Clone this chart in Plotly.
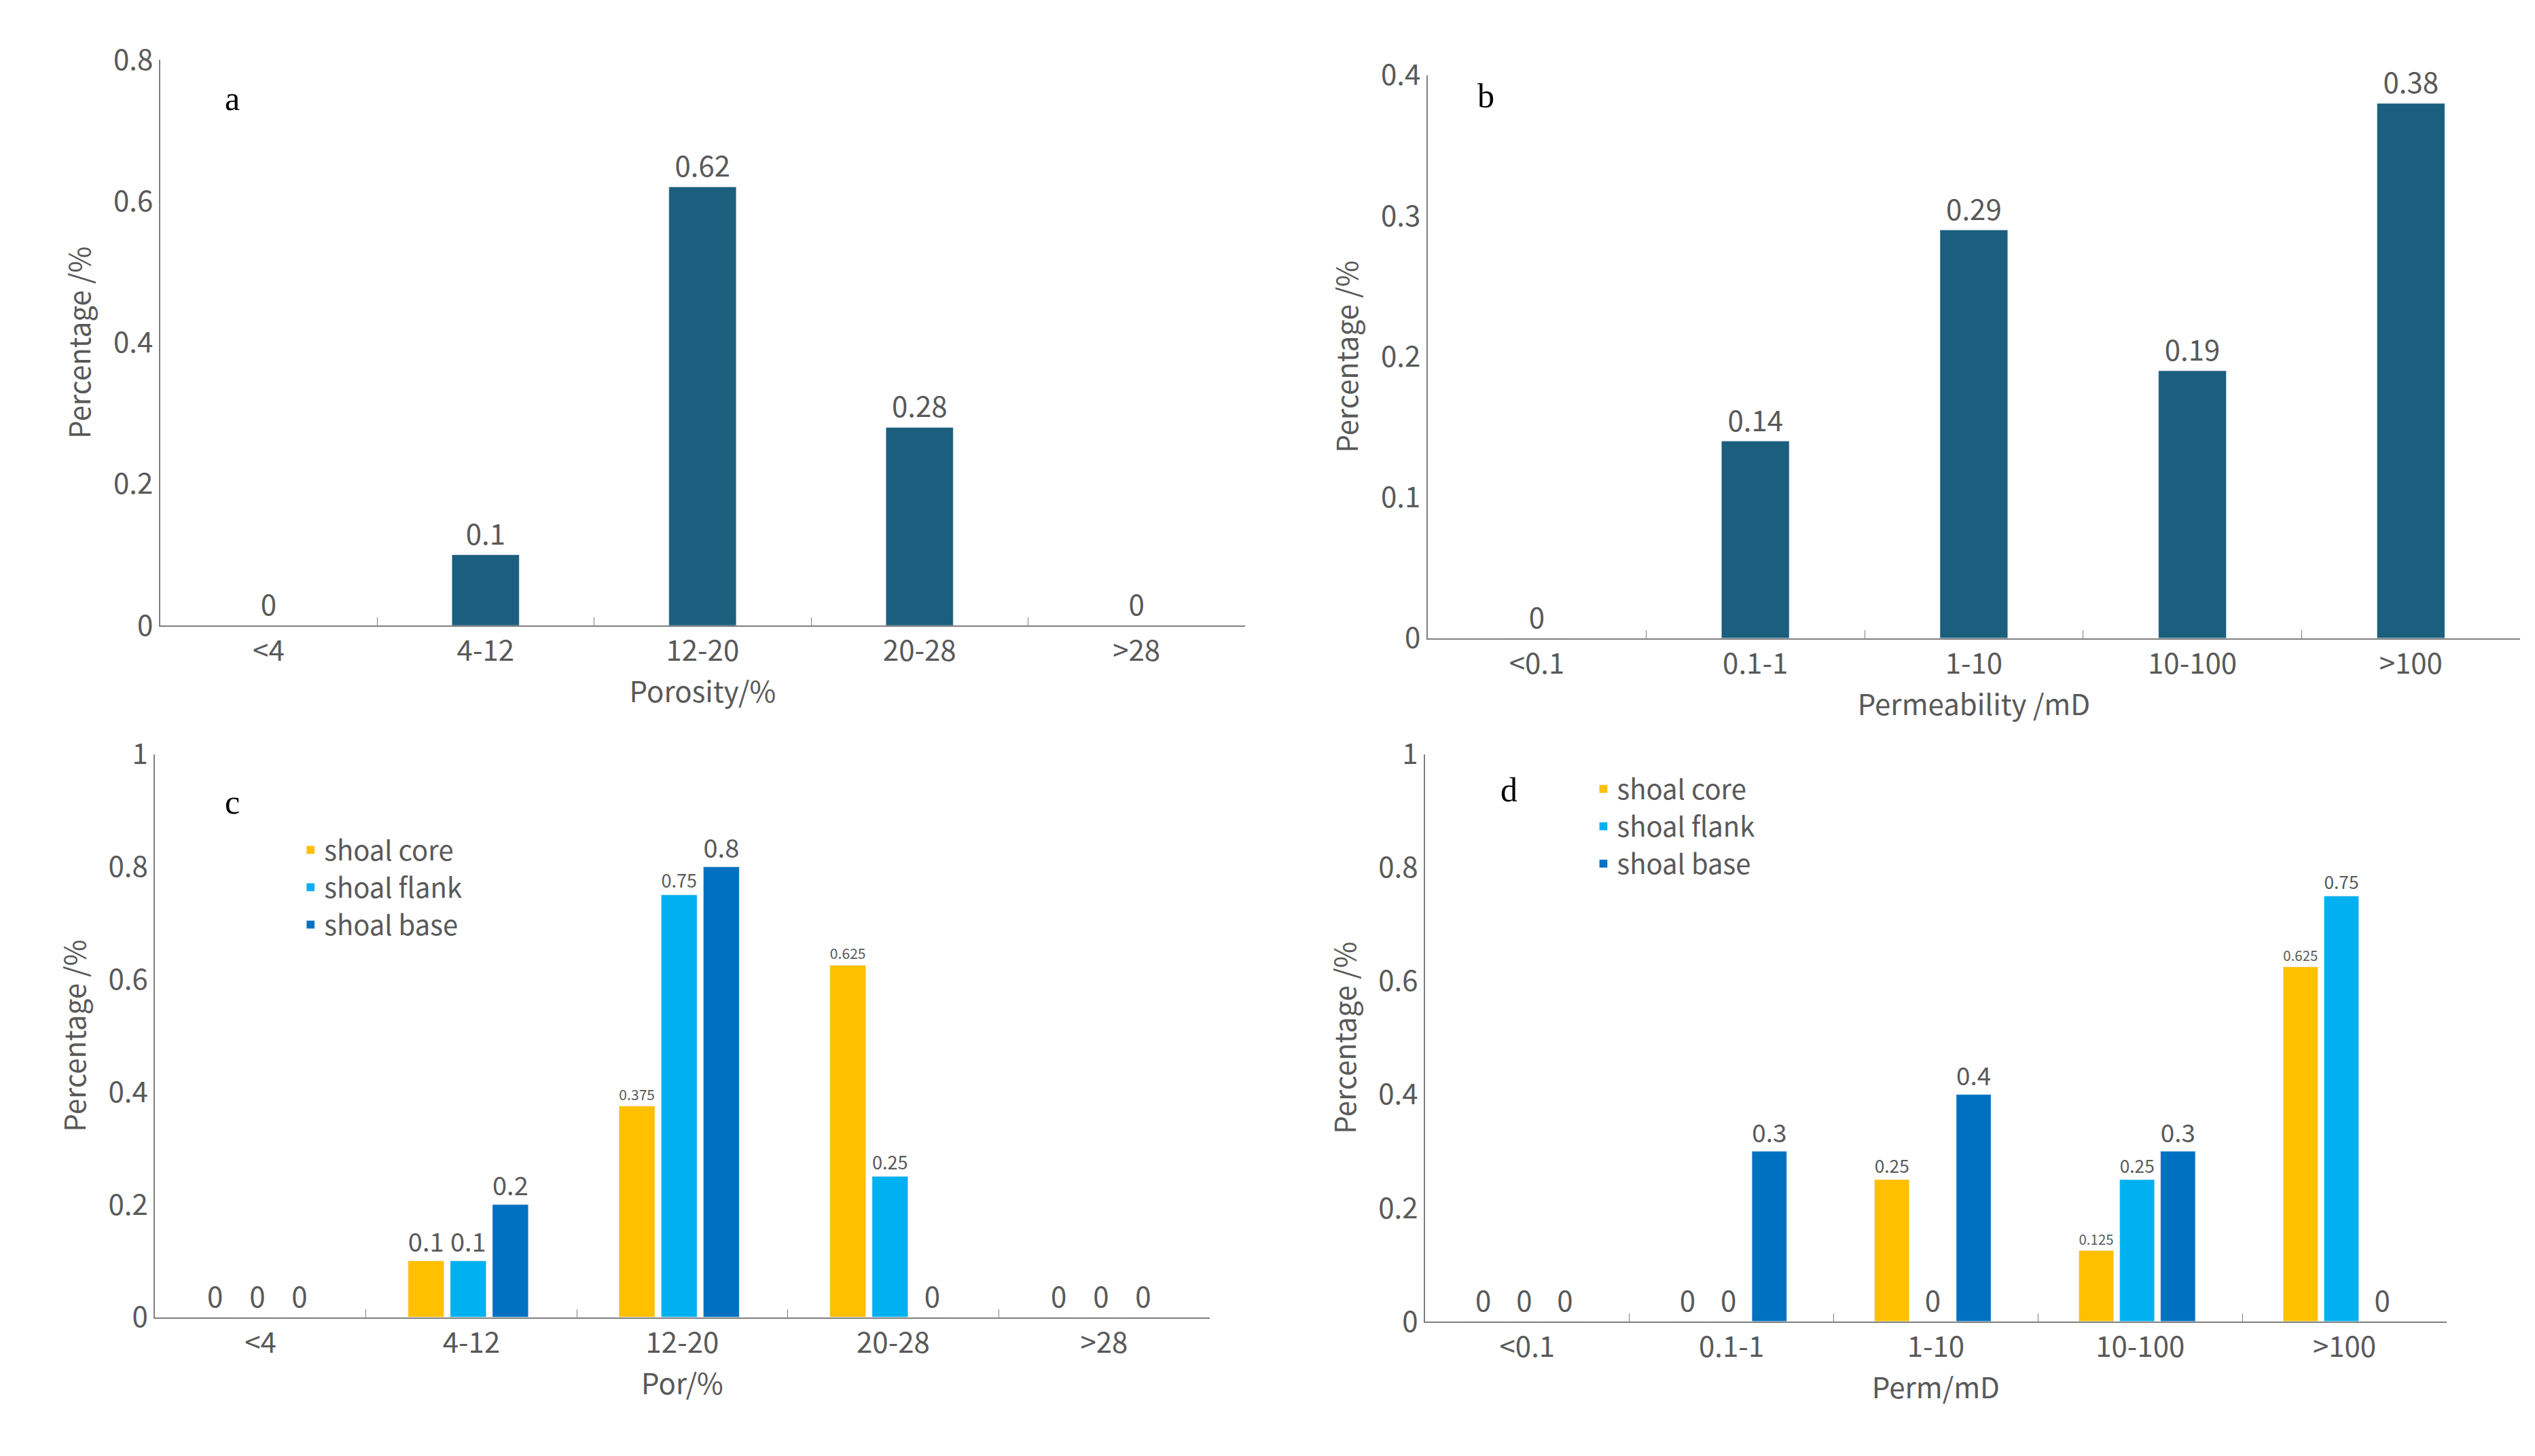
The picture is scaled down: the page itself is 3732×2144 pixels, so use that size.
import plotly.graph_objects as go

por_cats = ["<4", "4-12", "12-20", "20-28", ">28"]
perm_cats = ["<0.1", "0.1-1", "1-10", "10-100", ">100"]
a_vals = [0, 0.1, 0.62, 0.28, 0]
b_vals = [0, 0.14, 0.29, 0.19, 0.38]
c_core = [0, 0.1, 0.375, 0.625, 0]
c_flank = [0, 0.1, 0.75, 0.25, 0]
c_base = [0, 0.2, 0.8, 0, 0]
d_core = [0, 0, 0.25, 0.125, 0.625]
d_flank = [0, 0, 0, 0.25, 0.75]
d_base = [0, 0.3, 0.4, 0.3, 0]
series_names = ["shoal core", "shoal flank", "shoal base"]
series_colors = ["#FFC000", "#00B0F0", "#0070C0"]
dark = "#1B5E7E"

TF = dict(family="Noto Sans CJK SC, DejaVu Sans", size=42, color="#595959")
fig = go.Figure()

def single(vals, cats, xa, ya):
    fig.add_trace(go.Bar(x=cats, y=vals, marker_color=dark, width=0.31,
                         text=[str(v) for v in vals], textposition="outside",
                         textfont=TF, cliponaxis=False, showlegend=False,
                         xaxis=xa, yaxis=ya))

single(a_vals, por_cats, "x", "y")
single(b_vals, perm_cats, "x2", "y2")

offs = [-0.3, -0.1, 0.1]
for sets, cats, xa, ya, lg in [((c_core, c_flank, c_base), por_cats, "x3", "y3", "legend"),
                               ((d_core, d_flank, d_base), perm_cats, "x4", "y4", "legend2")]:
    for i, vals in enumerate(sets):
        fig.add_trace(go.Bar(x=cats, y=vals, name=series_names[i], marker_color=series_colors[i],
                             width=0.17, offset=offs[i],
                             text=[str(v) for v in vals], textposition="outside",
                             textfont=TF, cliponaxis=False, xaxis=xa, yaxis=ya, legend=lg))

doms = {
    "": ([0.061, 0.489], [0.578, 0.978], [0, 0.8], 0.2, "Porosity/%"),
    "2": ([0.561, 0.992], [0.569, 0.967], [0, 0.4], 0.1, "Permeability /mD"),
    "3": ([0.059, 0.475], [0.089, 0.487], [0, 1], 0.2, "Por/%"),
    "4": ([0.560, 0.963], [0.086, 0.487], [0, 1], 0.2, "Perm/mD"),
}
for k, (xd, yd, yr, dt, xt) in doms.items():
    fig.layout["xaxis" + k] = dict(domain=xd, anchor="y" + k, type="category",
        showline=True, linecolor="#7F7F7F", linewidth=2, tickson="boundaries",
        ticks="inside", ticklen=12, tickcolor="#7F7F7F", tickfont=TF,
        title=dict(text=xt, font=TF, standoff=10), showgrid=False)
    fig.layout["yaxis" + k] = dict(domain=yd, anchor="x" + k, range=yr, dtick=dt,
        showline=True, linecolor="#7F7F7F", linewidth=2, showgrid=False, zeroline=False,
        tickfont=TF, title=dict(text="Percentage /%", font=TF, standoff=20))

LF = dict(family="Liberation Serif", size=50, color="black")
for txt, x, y in [("a", 0.086, 0.965), ("b", 0.584, 0.967), ("c", 0.086, 0.453), ("d", 0.593, 0.462)]:
    fig.add_annotation(text=txt, x=x, y=y, xref="paper", yref="paper", showarrow=False, font=LF)

LGF = dict(family="Noto Sans CJK SC, DejaVu Sans", size=40, color="#595959")
fig.update_layout(
    width=3732, height=2144, plot_bgcolor="white", paper_bgcolor="white",
    margin=dict(l=0, r=0, t=0, b=0), barmode="overlay",
    legend=dict(x=0.115, y=0.435, xanchor="left", yanchor="top", font=LGF, bgcolor="rgba(0,0,0,0)", tracegroupgap=10),
    legend2=dict(x=0.625, y=0.478, xanchor="left", yanchor="top", font=LGF, bgcolor="rgba(0,0,0,0)", tracegroupgap=10),
)
fig.write_html("out.html")
